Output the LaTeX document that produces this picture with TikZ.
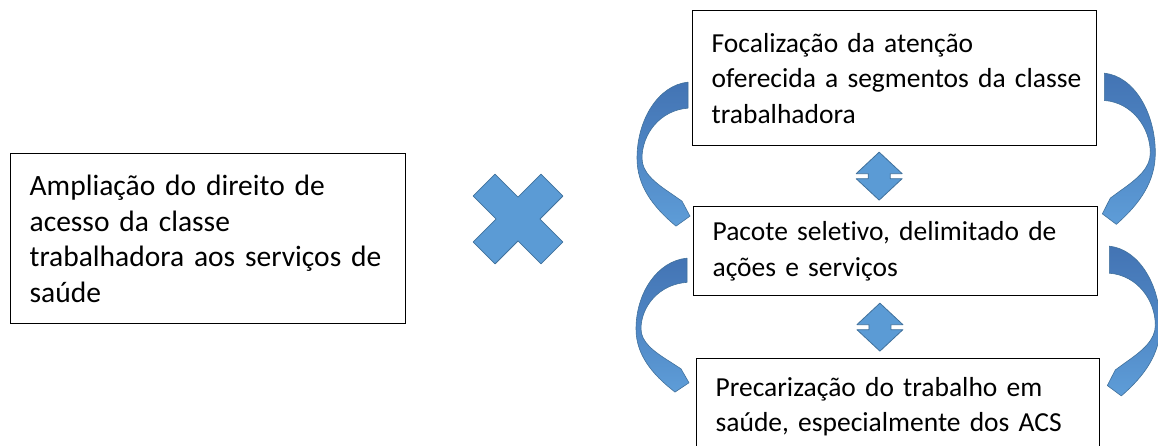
\documentclass[tikz,border=0pt]{standalone}
\usepackage{fontspec}
\setmainfont{Carlito}[Ligatures={NoCommon,NoContextual}]
\usetikzlibrary{calc}

\definecolor{shapefill}{HTML}{5B9BD5}
\definecolor{shapeline}{HTML}{41719C}
\definecolor{ribbondark}{HTML}{4374B4}
\definecolor{ribbonlight}{HTML}{5E9DD8}

\tikzset{
  shapepaint/.style={fill=shapefill, draw=shapeline, line width=0.8pt, line join=round},
  ribbonpaint/.style={top color=ribbondark, bottom color=ribbonlight,
    middle color=ribbondark!55!ribbonlight, draw=shapeline, line width=0.6pt, line join=round},
  % twisted curved arrow, starting at the box side and pointing back to the next box
  ribbon/.pic={
    \path[ribbonpaint] (0,0) .. controls (-30,3) and (-51,38) .. (-51,76)
      .. controls (-51,103) and (-36,124) .. (-12,144)
      -- (2,134) -- (-6,119) -- (-16,112)
      .. controls (-34,100) and (-46,90) .. (-46,76)
      .. controls (-46,52) and (-28,28) .. (0,26) -- cycle;
  },
  updown/.pic={
    \path[shapepaint] (0,-24) -- (23,-2.5) -- (11,-2.5) -- (11,2.5) -- (23,2.5)
      -- (0,24) -- (-23,2.5) -- (-11,2.5) -- (-11,-2.5) -- (-23,-2.5) -- cycle;
  },
  versus/.pic={
    \path[shapepaint, rotate=45] (-15.5,-48) -- (15.5,-48) -- (15.5,-15.5) -- (48,-15.5)
      -- (48,15.5) -- (15.5,15.5) -- (15.5,48) -- (-15.5,48) -- (-15.5,15.5)
      -- (-48,15.5) -- (-48,-15.5) -- (-15.5,-15.5) -- cycle;
  }
}

\begin{document}
\begin{tikzpicture}
  [
    x=1pt, y=-1pt,
    box/.style={draw, line width=1.3pt, anchor=north west, align=left,
      inner xsep=19pt, inner ysep=0pt},
    boxfont/.style={font=\fontsize{#1}{35.5}\selectfont}
  ]
  \useasboundingbox (0,0) rectangle (1158,445);
  \clip (0,0) rectangle (1158,445);
  % left box
  \node[box, boxfont=29.5, text width=357pt, minimum height=170pt] (amp) at (10,153)
    {Ampliação do direito de\\acesso da classe\\\mbox{trabalhadora aos serviços de}\\saúde};
  % versus sign
  \pic at (518,219) {versus};
  % right column
  \node[box, boxfont=27.5, text width=366pt, minimum height=135pt] (foc) at (692,10)
    {Focalização da atenção\\\mbox{oferecida a segmentos da classe}\\trabalhadora};
  \node[box, boxfont=27.5, text width=366pt, minimum height=89pt] (pac) at (693,206)
    {Pacote seletivo, delimitado de\\ações e serviços};
  \node[box, boxfont=27.5, text width=365pt, minimum height=96pt] (pre) at (696,358)
    {Precarização do trabalho em\\saúde, especialmente dos ACS};
  % double arrows between the boxes
  \pic at ([xshift=-16pt]$(foc.south)!.5!(pac.north)$) {updown};
  \pic at ([xshift=-17pt]$(pac.south)!.5!(pre.north)$) {updown};
  % curved arrows
  \pic at ([xshift=-4pt,yshift=-4pt]foc.west) {ribbon};
  \pic[xscale=-1, yscale=1.05] at ([xshift=7pt,yshift=5pt]foc.east) {ribbon};
  \pic[yscale=0.93] at ([xshift=-6pt,yshift=-7pt]pac.west) {ribbon};
  \pic[xscale=-1, yscale=1.04] at ([xshift=11pt,yshift=5pt]pac.east) {ribbon};
\end{tikzpicture}
\end{document}
